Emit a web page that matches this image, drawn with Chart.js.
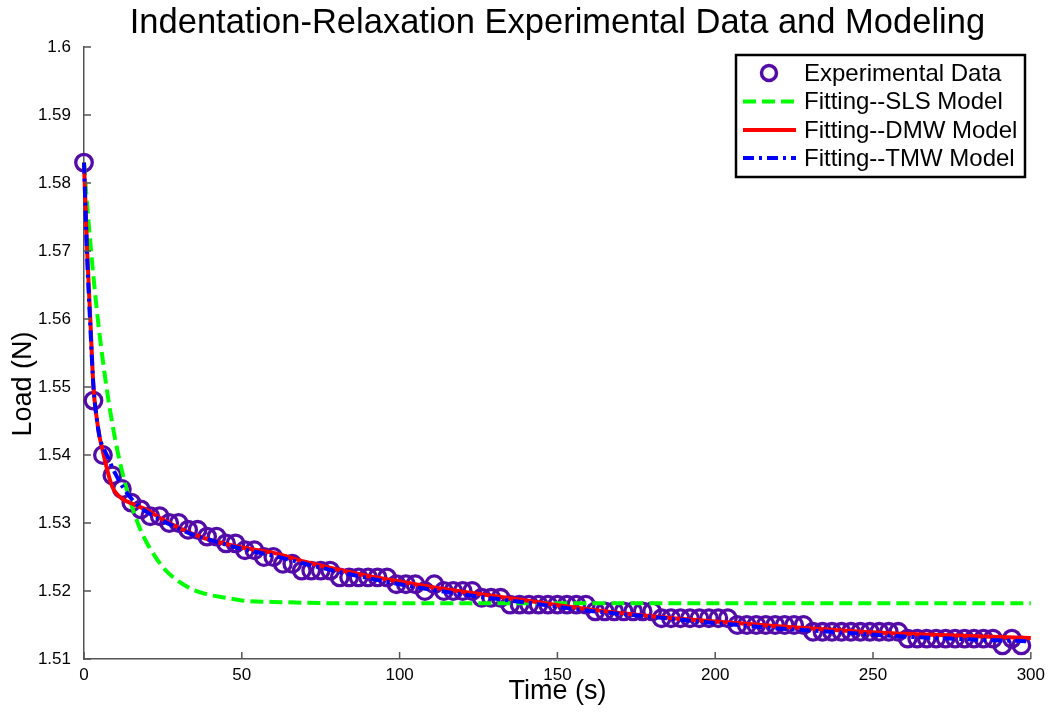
<!DOCTYPE html>
<html>
<head>
<meta charset="utf-8">
<script src="https://cdn.jsdelivr.net/npm/chart.js@4.4.1/dist/chart.umd.min.js"></script>
<style>
  html, body { margin: 0; padding: 0; background: #ffffff; }
  #wrap { width: 1051px; height: 719px; }
</style>
</head>
<body>
<div id="wrap"><canvas id="c" width="1051" height="719"></canvas></div>
<script>
// ---------- DATA ----------
const chartTitle = "Indentation-Relaxation Experimental Data and Modeling";
const xTitle = "Time (s)";
const yTitle = "Load (N)";
const seriesNames = ["Experimental Data", "Fitting--SLS Model", "Fitting--DMW Model", "Fitting--TMW Model"];

const xTicks = [0, 50, 100, 150, 200, 250, 300];
const yTicks = [1.51, 1.52, 1.53, 1.54, 1.55, 1.56, 1.57, 1.58, 1.59, 1.6];

const expTime = [0,3,6,9,12,15,18,21,24,27,30,33,36,39,42,45,48,51,54,57,60,63,66,69,72,75,78,81,84,87,90,93,96,99,102,105,108,111,114,117,120,123,126,129,132,135,138,141,144,147,150,153,156,159,162,165,168,171,174,177,180,183,186,189,192,195,198,201,204,207,210,213,216,219,222,225,228,231,234,237,240,243,246,249,252,255,258,261,264,267,270,273,276,279,282,285,288,291,294,297];
const expLoad = [1.583,1.548,1.540,1.537,1.535,1.533,1.532,1.531,1.531,1.530,1.530,1.529,1.529,1.528,1.528,1.527,1.527,1.526,1.526,1.525,1.525,1.524,1.524,1.523,1.523,1.523,1.523,1.522,1.522,1.522,1.522,1.522,1.522,1.521,1.521,1.521,1.520,1.521,1.520,1.520,1.520,1.520,1.519,1.519,1.519,1.518,1.518,1.518,1.518,1.518,1.518,1.518,1.518,1.518,1.517,1.517,1.517,1.517,1.517,1.517,1.517,1.516,1.516,1.516,1.516,1.516,1.516,1.516,1.516,1.515,1.515,1.515,1.515,1.515,1.515,1.515,1.515,1.514,1.514,1.514,1.514,1.514,1.514,1.514,1.514,1.514,1.514,1.513,1.513,1.513,1.513,1.513,1.513,1.513,1.513,1.513,1.513,1.512,1.513,1.512];

const slsTime = [0,1,2,3,4,5,6,7,8,10,12,14,16,18,20,25,30,35,40,45,50,60,80,100,150,200,250,300];
const slsLoad = [1.583,1.5768,1.5713,1.5662,1.5616,1.5575,1.5538,1.5504,1.5473,1.5420,1.5377,1.5342,1.5313,1.5289,1.5270,1.5235,1.5214,1.5201,1.5194,1.5190,1.5186,1.5184,1.5182,1.5182,1.5182,1.5182,1.5182,1.5182];

const dmwTime = [0,1,2,3,4,5,6,7,8,9,10,12,15,18,20,25,30,35,40,50,60,70,80,90,100,110,120,140,160,180,200,220,240,260,280,300];
const dmwLoad = [1.583,1.570,1.560,1.5500,1.5455,1.5425,1.5405,1.5385,1.5367,1.5353,1.5345,1.5336,1.5329,1.5323,1.5319,1.5305,1.5293,1.5283,1.5275,1.5264,1.5256,1.5243,1.5232,1.5222,1.5214,1.5206,1.5199,1.5186,1.5173,1.5163,1.5155,1.5148,1.5142,1.5137,1.5134,1.5131];

const tmwTime = [0,1,2,3,4,5,6,7,8,9,10,12,15,18,20,25,30,35,40,50,60,70,80,90,100,110,120,140,160,180,200,220,240,260,280,300];
const tmwLoad = [1.583,1.569,1.559,1.5500,1.5455,1.5425,1.5412,1.5402,1.5392,1.5381,1.5372,1.5355,1.5336,1.5322,1.5316,1.5303,1.5292,1.5282,1.5275,1.5262,1.5252,1.5240,1.5229,1.5219,1.5210,1.5202,1.5195,1.5183,1.5171,1.5162,1.5153,1.5145,1.5139,1.5133,1.5129,1.5126];

// ---------- STYLE ----------
const FONT = "'Liberation Sans', Arial, Helvetica, sans-serif";
const AXIS_COLOR = '#555555';
const COL_EXP = 'rgb(84,12,168)';
const COL_SLS = 'rgb(0,255,0)';
const COL_DMW = 'rgb(255,0,0)';
const COL_TMW = 'rgb(0,0,255)';

function pts(xs, ys) { return xs.map((x, i) => ({ x: x, y: ys[i] })); }

// inward tick marks + titles + legend
const decorPlugin = {
  id: 'decor',
  afterDraw(chart) {
    const ctx = chart.ctx;
    const ca = chart.chartArea;
    const xs = chart.scales.x, ys = chart.scales.y;
    ctx.save();
    // inward ticks
    ctx.strokeStyle = AXIS_COLOR;
    ctx.lineWidth = 1.5;
    const tl = 7;
    xTicks.forEach(v => {
      const px = xs.getPixelForValue(v);
      ctx.beginPath(); ctx.moveTo(px, ca.bottom); ctx.lineTo(px, ca.bottom - tl); ctx.stroke();
    });
    yTicks.forEach(v => {
      const py = ys.getPixelForValue(v);
      ctx.beginPath(); ctx.moveTo(ca.left, py); ctx.lineTo(ca.left + tl, py); ctx.stroke();
    });
    // titles
    ctx.fillStyle = '#000';
    ctx.textAlign = 'center';
    ctx.textBaseline = 'middle';
    ctx.font = '34.5px ' + FONT;
    ctx.fillText(chartTitle, (ca.left + ca.right) / 2, 23);
    ctx.font = '27px ' + FONT;
    ctx.fillText(xTitle, (ca.left + ca.right) / 2, 692);
    ctx.save();
    ctx.translate(24, 384);
    ctx.rotate(-Math.PI / 2);
    ctx.fillText(yTitle, 0, 0);
    ctx.restore();

    // legend
    const lx = 736, ly = 55, lw = 289, lh = 122;
    ctx.fillStyle = '#fff';
    ctx.fillRect(lx, ly, lw, lh);
    ctx.strokeStyle = '#000';
    ctx.lineWidth = 2.5;
    ctx.strokeRect(lx, ly, lw, lh);
    const rows = [73, 101.5, 130, 158];
    const sx0 = 743, sx1 = 796;
    // exp marker
    ctx.strokeStyle = COL_EXP; ctx.lineWidth = 3.5;
    ctx.beginPath(); ctx.arc(769, rows[0], 7.5, 0, Math.PI * 2); ctx.stroke();
    // sls
    ctx.lineWidth = 4;
    ctx.strokeStyle = COL_SLS; ctx.setLineDash([13, 6]);
    ctx.beginPath(); ctx.moveTo(sx0, rows[1]); ctx.lineTo(sx1, rows[1]); ctx.stroke();
    ctx.setLineDash([]);
    ctx.strokeStyle = COL_DMW;
    ctx.beginPath(); ctx.moveTo(sx0, rows[2]); ctx.lineTo(sx1, rows[2]); ctx.stroke();
    ctx.strokeStyle = COL_TMW; ctx.setLineDash([11, 5, 3, 5]);
    ctx.beginPath(); ctx.moveTo(sx0, rows[3]); ctx.lineTo(sx1, rows[3]); ctx.stroke();
    ctx.setLineDash([]);
    ctx.fillStyle = '#000';
    ctx.textAlign = 'left';
    ctx.font = '24px ' + FONT;
    seriesNames.forEach((n, i) => ctx.fillText(n, 804, rows[i] + 1));
    ctx.restore();
  }
};

new Chart(document.getElementById('c'), {
  type: 'scatter',
  data: {
    datasets: [
      {
        label: seriesNames[3], data: pts(tmwTime, tmwLoad), showLine: true,
        borderColor: COL_TMW, borderWidth: 4, borderDash: [11, 5, 3, 5],
        pointRadius: 0, cubicInterpolationMode: 'monotone', order: 1
      },
      {
        label: seriesNames[2], data: pts(dmwTime, dmwLoad), showLine: true,
        borderColor: COL_DMW, borderWidth: 4,
        pointRadius: 0, cubicInterpolationMode: 'monotone', order: 2
      },
      {
        label: seriesNames[1], data: pts(slsTime, slsLoad), showLine: true,
        borderColor: COL_SLS, borderWidth: 4, borderDash: [13, 6],
        pointRadius: 0, cubicInterpolationMode: 'monotone', order: 3
      },
      {
        label: seriesNames[0], data: pts(expTime, expLoad), showLine: false,
        pointStyle: 'circle', pointRadius: 8.3, pointBorderWidth: 3.3,
        pointBorderColor: COL_EXP, pointBackgroundColor: 'rgba(0,0,0,0)',
        order: 4
      }
    ]
  },
  options: {
    responsive: false,
    animation: false,
    clip: false,
    layout: { padding: { left: 0, right: 18, top: 47, bottom: 0 } },
    plugins: {
      legend: { display: false },
      title: { display: false },
      tooltip: { enabled: false }
    },
    scales: {
      x: {
        type: 'linear', min: 0, max: 300,
        afterBuildTicks: s => { s.ticks = xTicks.map(v => ({ value: v })); },
        afterFit: s => { s.height = 60; },
        grid: { display: false, drawTicks: false },
        border: { display: true, color: AXIS_COLOR, width: 1.5 },
        ticks: { color: '#000', font: { family: FONT, size: 17 }, padding: 6, maxRotation: 0 }
      },
      y: {
        type: 'linear', min: 1.51, max: 1.6,
        afterBuildTicks: s => { s.ticks = yTicks.map(v => ({ value: v })); },
        afterFit: s => { s.width = 84; },
        grid: { display: false, drawTicks: false },
        border: { display: true, color: AXIS_COLOR, width: 1.5 },
        ticks: {
          color: '#000', font: { family: FONT, size: 17 }, padding: 13,
          callback: v => String(+Number(v).toFixed(2))
        }
      }
    }
  },
  plugins: [decorPlugin]
});
</script>
</body>
</html>
